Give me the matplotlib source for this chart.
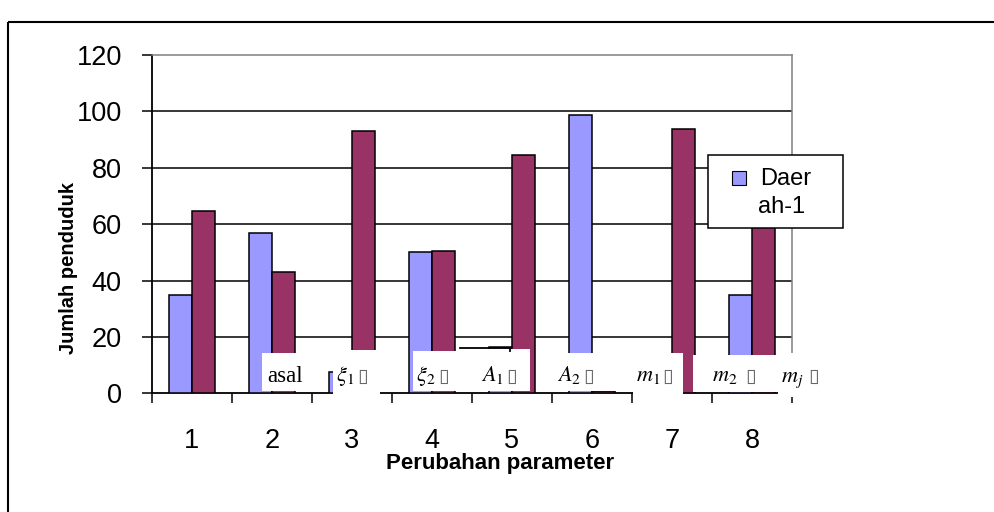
import matplotlib

matplotlib.use("Agg")
import matplotlib.pyplot as plt
from matplotlib.patches import Rectangle
from matplotlib.transforms import Affine2D

# ── data ─────────────────────────────────────────────────────────────────────
categories = [1, 2, 3, 4, 5, 6, 7, 8]
daerah_1 = [35, 57, 7.4, 50, 16.3, 98.6, 0, 35]
daerah_2 = [64.8, 43.2, 93, 50.5, 84.5, 0.9, 93.7, 62]
y_ticks = [0, 20, 40, 60, 80, 100, 120]

BLUE = "#9999FF"
MAROON = "#993366"
GREY = "#808080"

W, H = 995, 512
plt.rcParams["font.family"] = ["Liberation Sans", "DejaVu Sans"]
plt.rcParams["mathtext.fontset"] = "stix"

fig = plt.figure(figsize=(W / 100, H / 100), dpi=100)
fig.patch.set_facecolor("white")
# pixel coordinates, origin top-left
PX = Affine2D().scale(1 / W, -1 / H).translate(0, 1) + fig.transFigure

# outer chart frame (cut off at right and bottom)
fig.add_artist(Rectangle((7.6, 22), 1200, 700, transform=PX, fill=False,
                         edgecolor="black", lw=1.5, zorder=0))

ax = fig.add_axes([151.7 / W, 1 - 393.3 / H, (792 - 151.7) / W, (393.3 - 55) / H])
ax.set_facecolor("white")

bw = 1 / 3.5  # Excel gap width 150 %
ax.bar([c - bw / 2 for c in categories], daerah_1, bw, color=BLUE,
       edgecolor="black", lw=1.1, zorder=3)
ax.bar([c + bw / 2 for c in categories], daerah_2, bw, color=MAROON,
       edgecolor="black", lw=1.1, zorder=3)

ax.set_xlim(0.5, 8.5)
ax.set_ylim(0, 120)
for v in y_ticks[1:-1]:
    ax.axhline(v, color="black", lw=1.1, zorder=1)

for s in ("top", "right"):
    ax.spines[s].set_color(GREY)
    ax.spines[s].set_linewidth(1.1)
for s in ("left", "bottom"):
    ax.spines[s].set_color("black")
    ax.spines[s].set_linewidth(1.3)

ax.set_yticks(y_ticks)
ax.tick_params(axis="y", direction="out", length=7.5, width=1.1, pad=14, labelsize=19.5)
ax.set_xticks(categories)
ax.set_xticks([c - 0.5 for c in categories] + [8.5], minor=True)
ax.tick_params(axis="x", which="major", length=0, pad=25, labelsize=19.5)
ax.tick_params(axis="x", which="minor", direction="out", length=7.5, width=1.1)

# axis titles
fig.text(500, 463, "Perubahan parameter", transform=PX, ha="center", va="center",
         fontsize=16, fontweight="bold")
fig.text(68, 268, "Jumlah penduduk", transform=PX, ha="center", va="center",
         rotation=90, fontsize=14.5, fontweight="bold")

# ── pasted text boxes lying over the bottom of the chart ─────────────────────
boxes = [
    (262, 353, 327, 391),
    (333, 350, 380, 398),
    (412.7, 351, 460, 391),
    (460, 349, 530, 391),
    (536, 353, 632, 390.7),
    (633, 352.7, 683, 400),
    (693, 355, 778, 391.5),
    (778, 353, 822, 397),
]
for x0, y0, x1, y1 in boxes:
    fig.add_artist(Rectangle((x0, y0), x1 - x0, y1 - y0, transform=PX,
                             facecolor="white", edgecolor="none", zorder=10))
fig.add_artist(plt.Line2D([460, 510, 510], [347.5, 347.5, 351], transform=PX,
                          color="black", lw=1.3, zorder=11))

BASE = 381.5
fig.text(267, BASE, "asal", transform=PX, family="Liberation Serif",
         fontsize=16.5, va="baseline", zorder=12)
symbols = [
    (336, r"$\xi_1$", 357.5),
    (416, r"$\xi_2$", 438),
    (481, r"$A_1$", 506),
    (557, r"$A_2$", 583),
    (636, r"$m_1$", 662),
    (712, r"$m_2$", 745),
    (781, r"$m_j$", 808),
]
for x, sym, xt in symbols:
    fig.text(x, BASE, sym, transform=PX, fontsize=16, va="baseline", zorder=12)
    fig.text(xt, BASE, "\u25af", transform=PX, family="DejaVu Sans", fontsize=14,
             color="#666666", va="baseline", zorder=12)

# ── legend (only the first entry fits in the box) ────────────────────────────
fig.add_artist(Rectangle((708, 155), 135, 73, transform=PX, facecolor="white",
                         edgecolor="black", lw=1.1, zorder=10))
fig.add_artist(Rectangle((732, 171), 14, 14, transform=PX, facecolor=BLUE,
                         edgecolor="black", lw=0.8, zorder=11))
fig.text(760, 179, "Daer", transform=PX, fontsize=17, va="center", zorder=12)
fig.text(758, 207, "ah-1", transform=PX, fontsize=17, va="center", zorder=12)

fig.savefig("out.png", dpi=100, facecolor="white")
